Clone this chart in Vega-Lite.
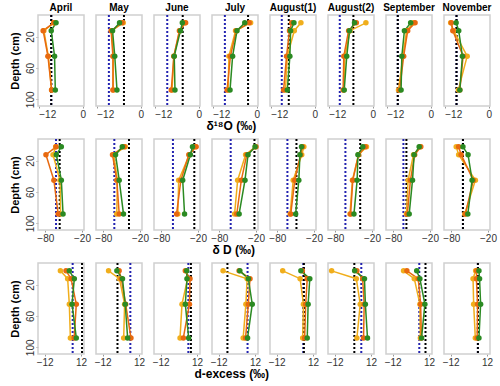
{
"$schema": "https://vega.github.io/schema/vega-lite/v6.json",
"background": "white",
"padding": {"left": 9, "top": 3, "right": 5, "bottom": 3},
"config": {
  "font": "Liberation Sans",
  "view": {"stroke": "#d0d0d0", "strokeWidth": 1.5},
  "axis": {"grid": false, "domain": false, "labelFontSize": 10, "labelColor": "#333333", "titleFontSize": 12, "titleFontWeight": "bold", "titleColor": "#000000", "tickColor": "#999999", "tickSize": 2, "labelPadding": 1},
  "header": {"labelFontSize": 10, "labelFontWeight": "bold", "labelColor": "#000000", "labelPadding": 2},
  "title": {"fontSize": 12, "fontWeight": "bold", "color": "#000000", "orient": "bottom", "offset": 2},
  "facet": {"spacing": 12},
  "concat": {"spacing": 5}
},
"datasets": {
"all": [
{"m":"April","v":"o","s":"Y","d":2.5,"x":-7.9},{"m":"April","v":"o","s":"Y","d":12.5,"x":-10.6},{"m":"April","v":"o","s":"Y","d":45,"x":-9.4},{"m":"April","v":"o","s":"Y","d":88,"x":-8.5},
{"m":"April","v":"o","s":"O","d":2.5,"x":-7.9},{"m":"April","v":"o","s":"O","d":12.5,"x":-10.8},{"m":"April","v":"o","s":"O","d":45,"x":-9.5},{"m":"April","v":"o","s":"O","d":88,"x":-8.5},
{"m":"April","v":"o","s":"G","d":2.5,"x":-7.3},{"m":"April","v":"o","s":"G","d":12.5,"x":-8.6},{"m":"April","v":"o","s":"G","d":45,"x":-7.7},{"m":"April","v":"o","s":"G","d":88,"x":-7.5},
{"m":"May","v":"o","s":"Y","d":2.5,"x":-4.8},{"m":"May","v":"o","s":"Y","d":12.5,"x":-7.9},{"m":"May","v":"o","s":"Y","d":45,"x":-7.5},{"m":"May","v":"o","s":"Y","d":88,"x":-7.5},
{"m":"May","v":"o","s":"O","d":2.5,"x":-5.1},{"m":"May","v":"o","s":"O","d":12.5,"x":-8.1},{"m":"May","v":"o","s":"O","d":45,"x":-7.6},{"m":"May","v":"o","s":"O","d":88,"x":-7.6},
{"m":"May","v":"o","s":"G","d":2.5,"x":-5.8},{"m":"May","v":"o","s":"G","d":12.5,"x":-7.7},{"m":"May","v":"o","s":"G","d":45,"x":-7.1},{"m":"May","v":"o","s":"G","d":88,"x":-6.5},
{"m":"June","v":"o","s":"Y","d":2.5,"x":-3.8},{"m":"June","v":"o","s":"Y","d":12.5,"x":-5.2},{"m":"June","v":"o","s":"Y","d":45,"x":-6.8},{"m":"June","v":"o","s":"Y","d":88,"x":-7.3},
{"m":"June","v":"o","s":"O","d":2.5,"x":-3.6},{"m":"June","v":"o","s":"O","d":12.5,"x":-5.3},{"m":"June","v":"o","s":"O","d":45,"x":-6.8},{"m":"June","v":"o","s":"O","d":88,"x":-7.5},
{"m":"June","v":"o","s":"G","d":2.5,"x":-4.5},{"m":"June","v":"o","s":"G","d":12.5,"x":-5.0},{"m":"June","v":"o","s":"G","d":45,"x":-6.7},{"m":"June","v":"o","s":"G","d":88,"x":-6.5},
{"m":"July","v":"o","s":"Y","d":2.5,"x":-1.7},{"m":"July","v":"o","s":"Y","d":12.5,"x":-5.8},{"m":"July","v":"o","s":"Y","d":45,"x":-7.6},{"m":"July","v":"o","s":"Y","d":88,"x":-7.8},
{"m":"July","v":"o","s":"O","d":2.5,"x":-2.1},{"m":"July","v":"o","s":"O","d":12.5,"x":-5.6},{"m":"July","v":"o","s":"O","d":45,"x":-7.2},{"m":"July","v":"o","s":"O","d":88,"x":-8.1},
{"m":"July","v":"o","s":"G","d":2.5,"x":-3.3},{"m":"July","v":"o","s":"G","d":12.5,"x":-5.4},{"m":"July","v":"o","s":"G","d":45,"x":-6.6},{"m":"July","v":"o","s":"G","d":88,"x":-7.3},
{"m":"August(1)","v":"o","s":"Y","d":2.5,"x":-3.8},{"m":"August(1)","v":"o","s":"Y","d":12.5,"x":-5.6},{"m":"August(1)","v":"o","s":"Y","d":45,"x":-7.5},{"m":"August(1)","v":"o","s":"Y","d":88,"x":-8.0},
{"m":"August(1)","v":"o","s":"O","d":2.5,"x":-6.3},{"m":"August(1)","v":"o","s":"O","d":12.5,"x":-6.9},{"m":"August(1)","v":"o","s":"O","d":45,"x":-7.7},{"m":"August(1)","v":"o","s":"O","d":88,"x":-8.5},
{"m":"August(1)","v":"o","s":"G","d":2.5,"x":-5.7},{"m":"August(1)","v":"o","s":"G","d":12.5,"x":-6.6},{"m":"August(1)","v":"o","s":"G","d":45,"x":-6.8},{"m":"August(1)","v":"o","s":"G","d":88,"x":-7.5},
{"m":"August(2)","v":"o","s":"Y","d":2.5,"x":-1.9},{"m":"August(2)","v":"o","s":"Y","d":12.5,"x":-6.2},{"m":"August(2)","v":"o","s":"Y","d":45,"x":-7.6},{"m":"August(2)","v":"o","s":"Y","d":88,"x":-7.9},
{"m":"August(2)","v":"o","s":"O","d":2.5,"x":-4.5},{"m":"August(2)","v":"o","s":"O","d":12.5,"x":-6.6},{"m":"August(2)","v":"o","s":"O","d":45,"x":-7.9},{"m":"August(2)","v":"o","s":"O","d":88,"x":-8.1},
{"m":"August(2)","v":"o","s":"G","d":2.5,"x":-5.0},{"m":"August(2)","v":"o","s":"G","d":12.5,"x":-6.35},{"m":"August(2)","v":"o","s":"G","d":45,"x":-7.1},{"m":"August(2)","v":"o","s":"G","d":88,"x":-7.8},
{"m":"September","v":"o","s":"Y","d":2.5,"x":-4.7},{"m":"September","v":"o","s":"Y","d":12.5,"x":-6.6},{"m":"September","v":"o","s":"Y","d":45,"x":-7.6},{"m":"September","v":"o","s":"Y","d":88,"x":-8.8},
{"m":"September","v":"o","s":"O","d":2.5,"x":-4.3},{"m":"September","v":"o","s":"O","d":12.5,"x":-6.3},{"m":"September","v":"o","s":"O","d":45,"x":-7.4},{"m":"September","v":"o","s":"O","d":88,"x":-8.5},
{"m":"September","v":"o","s":"G","d":2.5,"x":-5.5},{"m":"September","v":"o","s":"G","d":12.5,"x":-7.2},{"m":"September","v":"o","s":"G","d":45,"x":-7.9},{"m":"September","v":"o","s":"G","d":88,"x":-8.1},
{"m":"November","v":"o","s":"Y","d":2.5,"x":-10.4},{"m":"November","v":"o","s":"Y","d":12.5,"x":-9.6},{"m":"November","v":"o","s":"Y","d":45,"x":-5.9},{"m":"November","v":"o","s":"Y","d":88,"x":-8.3},
{"m":"November","v":"o","s":"O","d":2.5,"x":-10.2},{"m":"November","v":"o","s":"O","d":12.5,"x":-9.8},{"m":"November","v":"o","s":"O","d":45,"x":-7.0},{"m":"November","v":"o","s":"O","d":88,"x":-7.9},
{"m":"November","v":"o","s":"G","d":2.5,"x":-8.9},{"m":"November","v":"o","s":"G","d":12.5,"x":-8.2},{"m":"November","v":"o","s":"G","d":45,"x":-7.2},{"m":"November","v":"o","s":"G","d":88,"x":-7.9},

{"m":"April","v":"d","s":"Y","d":2.5,"x":-63},{"m":"April","v":"d","s":"Y","d":12.5,"x":-67.4},{"m":"April","v":"d","s":"Y","d":45,"x":-56},{"m":"April","v":"d","s":"Y","d":88,"x":-55},
{"m":"April","v":"d","s":"O","d":2.5,"x":-62.5},{"m":"April","v":"d","s":"O","d":12.5,"x":-79},{"m":"April","v":"d","s":"O","d":45,"x":-66},{"m":"April","v":"d","s":"O","d":88,"x":-59},
{"m":"April","v":"d","s":"G","d":2.5,"x":-53.8},{"m":"April","v":"d","s":"G","d":12.5,"x":-62},{"m":"April","v":"d","s":"G","d":45,"x":-53.8},{"m":"April","v":"d","s":"G","d":88,"x":-51},
{"m":"May","v":"d","s":"Y","d":2.5,"x":-44},{"m":"May","v":"d","s":"Y","d":12.5,"x":-63},{"m":"May","v":"d","s":"Y","d":45,"x":-57},{"m":"May","v":"d","s":"Y","d":88,"x":-58},
{"m":"May","v":"d","s":"O","d":2.5,"x":-46},{"m":"May","v":"d","s":"O","d":12.5,"x":-65},{"m":"May","v":"d","s":"O","d":45,"x":-58},{"m":"May","v":"d","s":"O","d":88,"x":-54},
{"m":"May","v":"d","s":"G","d":2.5,"x":-49},{"m":"May","v":"d","s":"G","d":12.5,"x":-60},{"m":"May","v":"d","s":"G","d":45,"x":-54},{"m":"May","v":"d","s":"G","d":88,"x":-47},
{"m":"June","v":"d","s":"Y","d":2.5,"x":-24},{"m":"June","v":"d","s":"Y","d":12.5,"x":-34},{"m":"June","v":"d","s":"Y","d":45,"x":-51.6},{"m":"June","v":"d","s":"Y","d":88,"x":-53},
{"m":"June","v":"d","s":"O","d":2.5,"x":-23},{"m":"June","v":"d","s":"O","d":12.5,"x":-35},{"m":"June","v":"d","s":"O","d":45,"x":-48},{"m":"June","v":"d","s":"O","d":88,"x":-55},
{"m":"June","v":"d","s":"G","d":2.5,"x":-29},{"m":"June","v":"d","s":"G","d":12.5,"x":-32.5},{"m":"June","v":"d","s":"G","d":45,"x":-45},{"m":"June","v":"d","s":"G","d":88,"x":-42},
{"m":"July","v":"d","s":"Y","d":2.5,"x":-21},{"m":"July","v":"d","s":"Y","d":12.5,"x":-37},{"m":"July","v":"d","s":"Y","d":45,"x":-50},{"m":"July","v":"d","s":"Y","d":88,"x":-55},
{"m":"July","v":"d","s":"O","d":2.5,"x":-20},{"m":"July","v":"d","s":"O","d":12.5,"x":-35},{"m":"July","v":"d","s":"O","d":45,"x":-44},{"m":"July","v":"d","s":"O","d":88,"x":-51.4},
{"m":"July","v":"d","s":"G","d":2.5,"x":-21.5},{"m":"July","v":"d","s":"G","d":12.5,"x":-33},{"m":"July","v":"d","s":"G","d":45,"x":-38},{"m":"July","v":"d","s":"G","d":88,"x":-47.6},
{"m":"August(1)","v":"d","s":"Y","d":2.5,"x":-36.6},{"m":"August(1)","v":"d","s":"Y","d":12.5,"x":-40},{"m":"August(1)","v":"d","s":"Y","d":45,"x":-54},{"m":"August(1)","v":"d","s":"Y","d":88,"x":-59},
{"m":"August(1)","v":"d","s":"O","d":2.5,"x":-39},{"m":"August(1)","v":"d","s":"O","d":12.5,"x":-42},{"m":"August(1)","v":"d","s":"O","d":45,"x":-51.4},{"m":"August(1)","v":"d","s":"O","d":88,"x":-58},
{"m":"August(1)","v":"d","s":"G","d":2.5,"x":-40.4},{"m":"August(1)","v":"d","s":"G","d":12.5,"x":-43},{"m":"August(1)","v":"d","s":"G","d":45,"x":-44.8},{"m":"August(1)","v":"d","s":"G","d":88,"x":-50},
{"m":"August(2)","v":"d","s":"Y","d":2.5,"x":-29},{"m":"August(2)","v":"d","s":"Y","d":12.5,"x":-42},{"m":"August(2)","v":"d","s":"Y","d":45,"x":-52},{"m":"August(2)","v":"d","s":"Y","d":88,"x":-56},
{"m":"August(2)","v":"d","s":"O","d":2.5,"x":-31},{"m":"August(2)","v":"d","s":"O","d":12.5,"x":-42},{"m":"August(2)","v":"d","s":"O","d":45,"x":-51.4},{"m":"August(2)","v":"d","s":"O","d":88,"x":-55},
{"m":"August(2)","v":"d","s":"G","d":2.5,"x":-35},{"m":"August(2)","v":"d","s":"G","d":12.5,"x":-43},{"m":"August(2)","v":"d","s":"G","d":45,"x":-44.3},{"m":"August(2)","v":"d","s":"G","d":88,"x":-49.5},
{"m":"September","v":"d","s":"Y","d":2.5,"x":-36},{"m":"September","v":"d","s":"Y","d":12.5,"x":-47},{"m":"September","v":"d","s":"Y","d":45,"x":-55.8},{"m":"September","v":"d","s":"Y","d":88,"x":-58.6},
{"m":"September","v":"d","s":"O","d":2.5,"x":-35},{"m":"September","v":"d","s":"O","d":12.5,"x":-45},{"m":"September","v":"d","s":"O","d":45,"x":-52},{"m":"September","v":"d","s":"O","d":88,"x":-57},
{"m":"September","v":"d","s":"G","d":2.5,"x":-37.7},{"m":"September","v":"d","s":"G","d":12.5,"x":-46},{"m":"September","v":"d","s":"G","d":45,"x":-48.6},{"m":"September","v":"d","s":"G","d":88,"x":-54},
{"m":"November","v":"d","s":"Y","d":2.5,"x":-72},{"m":"November","v":"d","s":"Y","d":12.5,"x":-68},{"m":"November","v":"d","s":"Y","d":45,"x":-40.6},{"m":"November","v":"d","s":"Y","d":88,"x":-58},
{"m":"November","v":"d","s":"O","d":2.5,"x":-68},{"m":"November","v":"d","s":"O","d":12.5,"x":-64},{"m":"November","v":"d","s":"O","d":45,"x":-44},{"m":"November","v":"d","s":"O","d":88,"x":-57},
{"m":"November","v":"d","s":"G","d":2.5,"x":-61},{"m":"November","v":"d","s":"G","d":12.5,"x":-52.6},{"m":"November","v":"d","s":"G","d":45,"x":-46},{"m":"November","v":"d","s":"G","d":88,"x":-53},

{"m":"April","v":"e","s":"Y","d":2.5,"x":-1.6},{"m":"April","v":"e","s":"Y","d":12.5,"x":3.2},{"m":"April","v":"e","s":"Y","d":45,"x":4.3},{"m":"April","v":"e","s":"Y","d":88,"x":5.0},
{"m":"April","v":"e","s":"O","d":2.5,"x":2.1},{"m":"April","v":"e","s":"O","d":12.5,"x":5.5},{"m":"April","v":"e","s":"O","d":45,"x":8.9},{"m":"April","v":"e","s":"O","d":88,"x":7.5},
{"m":"April","v":"e","s":"G","d":2.5,"x":4.3},{"m":"April","v":"e","s":"G","d":12.5,"x":7.6},{"m":"April","v":"e","s":"G","d":45,"x":6.1},{"m":"April","v":"e","s":"G","d":88,"x":8.9},
{"m":"May","v":"e","s":"Y","d":2.5,"x":-8.1},{"m":"May","v":"e","s":"Y","d":12.5,"x":-0.9},{"m":"May","v":"e","s":"Y","d":45,"x":2.5},{"m":"May","v":"e","s":"Y","d":88,"x":1.9},
{"m":"May","v":"e","s":"O","d":2.5,"x":-1.1},{"m":"May","v":"e","s":"O","d":12.5,"x":0.3},{"m":"May","v":"e","s":"O","d":45,"x":3.2},{"m":"May","v":"e","s":"O","d":88,"x":6.7},
{"m":"May","v":"e","s":"G","d":2.5,"x":-2.6},{"m":"May","v":"e","s":"G","d":12.5,"x":1.1},{"m":"May","v":"e","s":"G","d":45,"x":2.9},{"m":"May","v":"e","s":"G","d":88,"x":4.5},
{"m":"June","v":"e","s":"Y","d":2.5,"x":5.0},{"m":"June","v":"e","s":"Y","d":12.5,"x":5.8},{"m":"June","v":"e","s":"Y","d":45,"x":2.1},{"m":"June","v":"e","s":"Y","d":88,"x":0.8},
{"m":"June","v":"e","s":"O","d":2.5,"x":4.3},{"m":"June","v":"e","s":"O","d":12.5,"x":7.4},{"m":"June","v":"e","s":"O","d":45,"x":7.0},{"m":"June","v":"e","s":"O","d":88,"x":3.0},
{"m":"June","v":"e","s":"G","d":2.5,"x":5.2},{"m":"June","v":"e","s":"G","d":12.5,"x":5.4},{"m":"June","v":"e","s":"G","d":45,"x":4.3},{"m":"June","v":"e","s":"G","d":88,"x":6.5},
{"m":"July","v":"e","s":"Y","d":2.5,"x":-9.1},{"m":"July","v":"e","s":"Y","d":12.5,"x":6.8},{"m":"July","v":"e","s":"Y","d":45,"x":6.0},{"m":"July","v":"e","s":"Y","d":88,"x":4.2},
{"m":"July","v":"e","s":"O","d":2.5,"x":1.5},{"m":"July","v":"e","s":"O","d":12.5,"x":8.7},{"m":"July","v":"e","s":"O","d":45,"x":7.6},{"m":"July","v":"e","s":"O","d":88,"x":5.8},
{"m":"July","v":"e","s":"G","d":2.5,"x":2.0},{"m":"July","v":"e","s":"G","d":12.5,"x":7.6},{"m":"July","v":"e","s":"G","d":45,"x":10.2},{"m":"July","v":"e","s":"G","d":88,"x":7.1},
{"m":"August(1)","v":"e","s":"Y","d":2.5,"x":-8},{"m":"August(1)","v":"e","s":"Y","d":12.5,"x":3.5},{"m":"August(1)","v":"e","s":"Y","d":45,"x":5.7},{"m":"August(1)","v":"e","s":"Y","d":88,"x":5.2},
{"m":"August(1)","v":"e","s":"O","d":2.5,"x":5.0},{"m":"August(1)","v":"e","s":"O","d":12.5,"x":8.2},{"m":"August(1)","v":"e","s":"O","d":45,"x":7.2},{"m":"August(1)","v":"e","s":"O","d":88,"x":6.5},
{"m":"August(1)","v":"e","s":"G","d":2.5,"x":4.0},{"m":"August(1)","v":"e","s":"G","d":12.5,"x":9.9},{"m":"August(1)","v":"e","s":"G","d":45,"x":8.8},{"m":"August(1)","v":"e","s":"G","d":88,"x":8.2},
{"m":"August(2)","v":"e","s":"Y","d":2.5,"x":-14},{"m":"August(2)","v":"e","s":"Y","d":12.5,"x":2.3},{"m":"August(2)","v":"e","s":"Y","d":45,"x":4.9},{"m":"August(2)","v":"e","s":"Y","d":88,"x":2.7},
{"m":"August(2)","v":"e","s":"O","d":2.5,"x":2.7},{"m":"August(2)","v":"e","s":"O","d":12.5,"x":6.5},{"m":"August(2)","v":"e","s":"O","d":45,"x":7.5},{"m":"August(2)","v":"e","s":"O","d":88,"x":7.1},
{"m":"August(2)","v":"e","s":"G","d":2.5,"x":1.2},{"m":"August(2)","v":"e","s":"G","d":12.5,"x":7.7},{"m":"August(2)","v":"e","s":"G","d":45,"x":8.3},{"m":"August(2)","v":"e","s":"G","d":88,"x":9.7},
{"m":"September","v":"e","s":"Y","d":2.5,"x":-4.8},{"m":"September","v":"e","s":"Y","d":12.5,"x":2.3},{"m":"September","v":"e","s":"Y","d":45,"x":6.0},{"m":"September","v":"e","s":"Y","d":88,"x":6.3},
{"m":"September","v":"e","s":"O","d":2.5,"x":-2.6},{"m":"September","v":"e","s":"O","d":12.5,"x":4.9},{"m":"September","v":"e","s":"O","d":45,"x":6.5},{"m":"September","v":"e","s":"O","d":88,"x":7.0},
{"m":"September","v":"e","s":"G","d":2.5,"x":3.9},{"m":"September","v":"e","s":"G","d":12.5,"x":6.0},{"m":"September","v":"e","s":"G","d":45,"x":9.3},{"m":"September","v":"e","s":"G","d":88,"x":7.1},
{"m":"November","v":"e","s":"Y","d":2.5,"x":4.5},{"m":"November","v":"e","s":"Y","d":12.5,"x":2.8},{"m":"November","v":"e","s":"Y","d":45,"x":3.2},{"m":"November","v":"e","s":"Y","d":88,"x":4.3},
{"m":"November","v":"e","s":"O","d":2.5,"x":5.2},{"m":"November","v":"e","s":"O","d":12.5,"x":5.0},{"m":"November","v":"e","s":"O","d":45,"x":5.8},{"m":"November","v":"e","s":"O","d":88,"x":5.5},
{"m":"November","v":"e","s":"G","d":2.5,"x":6.7},{"m":"November","v":"e","s":"G","d":12.5,"x":7.1},{"m":"November","v":"e","s":"G","d":45,"x":7.8},{"m":"November","v":"e","s":"G","d":88,"x":6.7},

{"m":"April","v":"o","r":"blue","x":-8.6},{"m":"April","v":"o","r":"black","x":-8.6},
{"m":"May","v":"o","r":"blue","x":-8.7},{"m":"May","v":"o","r":"black","x":-4.6},
{"m":"June","v":"o","r":"blue","x":-8.6},{"m":"June","v":"o","r":"black","x":-4.4},
{"m":"July","v":"o","r":"blue","x":-8.7},{"m":"July","v":"o","r":"black","x":-2.4},
{"m":"August(1)","v":"o","r":"blue","x":-9.0},{"m":"August(1)","v":"o","r":"black","x":-7.1},
{"m":"August(2)","v":"o","r":"blue","x":-9.0},{"m":"August(2)","v":"o","r":"black","x":-5.3},
{"m":"September","v":"o","r":"blue","x":-9.0},{"m":"September","v":"o","r":"black","x":-9.0},
{"m":"November","v":"o","r":"blue","x":-8.8},{"m":"November","v":"o","r":"black","x":-8.8},
{"m":"April","v":"d","r":"blue","x":-62.5},{"m":"April","v":"d","r":"black","x":-56.5},
{"m":"May","v":"d","r":"blue","x":-62},{"m":"May","v":"d","r":"black","x":-38},
{"m":"June","v":"d","r":"blue","x":-61},{"m":"June","v":"d","r":"black","x":-26},
{"m":"July","v":"d","r":"blue","x":-61.4},{"m":"July","v":"d","r":"black","x":-22.5},
{"m":"August(1)","v":"d","r":"blue","x":-63.5},{"m":"August(1)","v":"d","r":"black","x":-48.7},
{"m":"August(2)","v":"d","r":"blue","x":-63.5},{"m":"August(2)","v":"d","r":"black","x":-39.3},
{"m":"September","v":"d","r":"blue","x":-63.5},{"m":"September","v":"d","r":"black","x":-58.6},
{"m":"November","v":"d","r":"blue","x":-61},{"m":"November","v":"d","r":"black","x":-61},
{"m":"April","v":"e","r":"blue","x":6.5},{"m":"April","v":"e","r":"black","x":12.7},
{"m":"May","v":"e","r":"blue","x":6.3},{"m":"May","v":"e","r":"black","x":-2.2},
{"m":"June","v":"e","r":"blue","x":6.3},{"m":"June","v":"e","r":"black","x":8.0},
{"m":"July","v":"e","r":"blue","x":7.1},{"m":"July","v":"e","r":"black","x":-6.2},
{"m":"August(1)","v":"e","r":"blue","x":5.6},{"m":"August(1)","v":"e","r":"black","x":6.0},
{"m":"August(2)","v":"e","r":"blue","x":5.6},{"m":"August(2)","v":"e","r":"black","x":1.0},
{"m":"September","v":"e","r":"blue","x":5.6},{"m":"September","v":"e","r":"black","x":9.7},
{"m":"November","v":"e","r":"blue","x":6.0},{"m":"November","v":"e","r":"black","x":6.0}
]
},
"vconcat": [
{
 "data": {"name": "all"},
 "transform": [{"filter": "datum.v === 'o'"}],
 "title": {"text": "δ¹⁸O (‰)", "anchor": "middle", "frame": "bounds", "dx": -19},
 "bounds": "flush",
 "facet": {"column": {"field": "m", "type": "nominal", "sort": ["April","May","June","July","August(1)","August(2)","September","November"], "title": null}},
 "spec": {
  "width": 46, "height": 91,
  "layer": [
   {"transform": [{"filter": "datum.r === 'blue'"}], "mark": {"type": "rule", "color": "#2323b0", "strokeWidth": 2, "strokeDash": [2, 2]},
    "encoding": {"x": {"field": "x", "type": "quantitative", "scale": {"domain": [-12.2, 0.3], "nice": false, "zero": false}, "axis": {"values": [-12, -6, 0], "title": null}}}},
   {"transform": [{"filter": "datum.r === 'black'"}], "mark": {"type": "rule", "color": "#000000", "strokeWidth": 2, "strokeDash": [2, 2]},
    "encoding": {"x": {"field": "x", "type": "quantitative"}}},
   {"transform": [{"filter": "isValid(datum.d)"}], "mark": {"type": "line", "strokeWidth": 1.5},
    "encoding": {"x": {"field": "x", "type": "quantitative"}, "y": {"field": "d", "type": "quantitative", "scale": {"domain": [-7.5, 108.5], "reverse": true, "nice": false, "zero": false}, "axis": {"values": [20, 60, 100], "labelAngle": -90, "title": "Depth (cm)", "titleFontSize": 11, "titlePadding": 5}},
     "color": {"field": "s", "type": "nominal", "scale": {"domain": ["Y", "O", "G"], "range": ["#f0ae1c", "#e8690f", "#2b8a22"]}, "legend": null},
     "order": {"field": "d", "type": "quantitative"}}},
   {"transform": [{"filter": "isValid(datum.d)"}], "mark": {"type": "circle", "size": 30, "opacity": 1},
    "encoding": {"x": {"field": "x", "type": "quantitative"}, "y": {"field": "d", "type": "quantitative"},
     "color": {"field": "s", "type": "nominal", "legend": null}}}
  ]
 }
},
{
 "data": {"name": "all"},
 "transform": [{"filter": "datum.v === 'd'"}],
 "title": {"text": "δ D (‰)", "anchor": "middle", "frame": "bounds", "dx": -19},
 "bounds": "flush",
 "facet": {"column": {"field": "m", "type": "nominal", "sort": ["April","May","June","July","August(1)","August(2)","September","November"], "title": null, "header": {"labels": false}}},
 "spec": {
  "width": 46, "height": 91,
  "layer": [
   {"transform": [{"filter": "datum.r === 'blue'"}], "mark": {"type": "rule", "color": "#2323b0", "strokeWidth": 2, "strokeDash": [2, 2]},
    "encoding": {"x": {"field": "x", "type": "quantitative", "scale": {"domain": [-92, -16.7], "nice": false, "zero": false}, "axis": {"values": [-80, -20], "title": null}}}},
   {"transform": [{"filter": "datum.r === 'black'"}], "mark": {"type": "rule", "color": "#000000", "strokeWidth": 2, "strokeDash": [2, 2]},
    "encoding": {"x": {"field": "x", "type": "quantitative"}}},
   {"transform": [{"filter": "isValid(datum.d)"}], "mark": {"type": "line", "strokeWidth": 1.5},
    "encoding": {"x": {"field": "x", "type": "quantitative"}, "y": {"field": "d", "type": "quantitative", "scale": {"domain": [-7.5, 108.5], "reverse": true, "nice": false, "zero": false}, "axis": {"values": [20, 60, 100], "labelAngle": -90, "title": "Depth (cm)", "titleFontSize": 11, "titlePadding": 5}},
     "color": {"field": "s", "type": "nominal", "scale": {"domain": ["Y", "O", "G"], "range": ["#f0ae1c", "#e8690f", "#2b8a22"]}, "legend": null},
     "order": {"field": "d", "type": "quantitative"}}},
   {"transform": [{"filter": "isValid(datum.d)"}], "mark": {"type": "circle", "size": 30, "opacity": 1},
    "encoding": {"x": {"field": "x", "type": "quantitative"}, "y": {"field": "d", "type": "quantitative"},
     "color": {"field": "s", "type": "nominal", "legend": null}}}
  ]
 }
},
{
 "data": {"name": "all"},
 "transform": [{"filter": "datum.v === 'e'"}],
 "title": {"text": "d-excess (‰)", "anchor": "middle", "frame": "bounds", "dx": -19},
 "bounds": "flush",
 "facet": {"column": {"field": "m", "type": "nominal", "sort": ["April","May","June","July","August(1)","August(2)","September","November"], "title": null, "header": {"labels": false}}},
 "spec": {
  "width": 46, "height": 91,
  "layer": [
   {"transform": [{"filter": "datum.r === 'blue'"}], "mark": {"type": "rule", "color": "#2323b0", "strokeWidth": 2, "strokeDash": [2, 2]},
    "encoding": {"x": {"field": "x", "type": "quantitative", "scale": {"domain": [-16.4, 14], "nice": false, "zero": false}, "axis": {"values": [-12, 12], "title": null}}}},
   {"transform": [{"filter": "datum.r === 'black'"}], "mark": {"type": "rule", "color": "#000000", "strokeWidth": 2, "strokeDash": [2, 2]},
    "encoding": {"x": {"field": "x", "type": "quantitative"}}},
   {"transform": [{"filter": "isValid(datum.d)"}], "mark": {"type": "line", "strokeWidth": 1.5},
    "encoding": {"x": {"field": "x", "type": "quantitative"}, "y": {"field": "d", "type": "quantitative", "scale": {"domain": [-7.5, 108.5], "reverse": true, "nice": false, "zero": false}, "axis": {"values": [20, 60, 100], "labelAngle": -90, "title": "Depth (cm)", "titleFontSize": 11, "titlePadding": 5}},
     "color": {"field": "s", "type": "nominal", "scale": {"domain": ["Y", "O", "G"], "range": ["#f0ae1c", "#e8690f", "#2b8a22"]}, "legend": null},
     "order": {"field": "d", "type": "quantitative"}}},
   {"transform": [{"filter": "isValid(datum.d)"}], "mark": {"type": "circle", "size": 30, "opacity": 1},
    "encoding": {"x": {"field": "x", "type": "quantitative"}, "y": {"field": "d", "type": "quantitative"},
     "color": {"field": "s", "type": "nominal", "legend": null}}}
  ]
 }
}
]
}
